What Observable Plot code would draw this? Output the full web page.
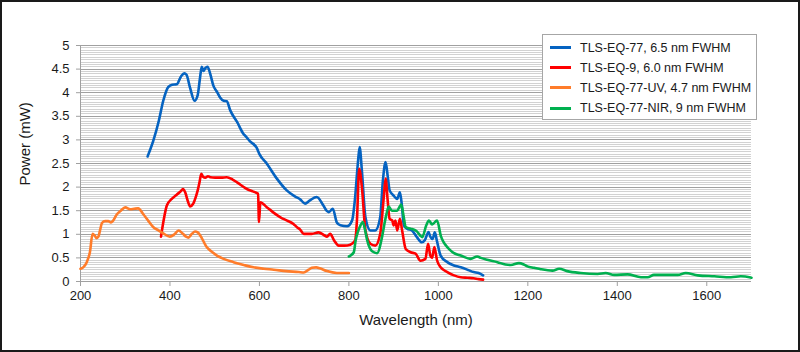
<!DOCTYPE html>
<html><head><meta charset="utf-8">
<script src="https://cdn.jsdelivr.net/npm/d3@7"></script>
<script src="https://cdn.jsdelivr.net/npm/@observablehq/plot@0.6"></script>
<style>
html,body{margin:0;padding:0;background:#fff;}
#wrap{position:relative;width:800px;height:352px;font-family:"Liberation Sans",Arial,sans-serif;}
#frame{position:absolute;left:0;top:0;width:800px;height:352px;box-sizing:border-box;border:2px solid #1a1a1a;pointer-events:none;}
#legend{position:absolute;left:542px;top:34px;width:215px;height:86px;box-sizing:border-box;border:1px solid #a6a6a6;background:#fff;}
.row{position:absolute;left:0;height:20px;display:flex;align-items:center;font-size:12.5px;color:#1a1a1a;white-space:nowrap;}
.sw{width:21px;height:3px;margin-left:7px;margin-right:9px;}
</style></head><body>
<div id="wrap"><div id="chart"></div><div id="legend"></div><div id="frame"></div></div>
<script>
// Series names and colours
const seriesNames = ["TLS-EQ-77, 6.5 nm FWHM", "TLS-EQ-9, 6.0 nm FWHM", "TLS-EQ-77-UV, 4.7 nm FWHM", "TLS-EQ-77-NIR, 9 nm FWHM"];
const seriesColors = ["#0563c1", "#ff0000", "#ff7c2a", "#00b04f"];

// TLS-EQ-77
const eq77_nm = [350,363,375,385,396,405,415,425,432,437,445,455,462,467,471,475,479,484,490,497,505,512,520,527,535,550,564,570,579,594,600,617,639,661,680,691,702,713,728,743,750,755,764,773,781,796,807,814,820,824,829,837,848,859,870,876,882,887,891,900,908,914,918,923,930,941,952,963,970,978,982,987,992,997,1005,1020,1035,1050,1065,1079,1090,1100];
const eq77_mW = [2.65,2.99,3.4,3.83,4.12,4.17,4.18,4.35,4.41,4.38,4.1,3.83,3.95,4.3,4.55,4.46,4.52,4.55,4.4,4.15,4.02,3.9,3.83,3.82,3.62,3.38,3.13,3.07,2.97,2.83,2.7,2.49,2.18,1.93,1.8,1.74,1.65,1.72,1.79,1.61,1.5,1.47,1.54,1.25,1.19,1.17,1.29,1.79,2.5,2.85,2.35,1.36,1.08,1.08,1.36,2.14,2.53,2.21,1.93,1.82,1.75,1.89,1.65,1.19,1.12,1.08,0.94,0.83,0.88,1.05,0.95,0.9,1.04,0.85,0.55,0.41,0.34,0.3,0.25,0.2,0.18,0.13];

// TLS-EQ-9
const eq9_nm = [380,385,393,404,415,425,429,434,440,445,452,458,462,466,470,474,479,485,490,501,515,527,540,550,572,585,597,599,602,617,630,647,662,676,684,691,699,717,732,745,751,758,767,777,790,803,814,818,823,829,837,848,859,870,878,882,887,891,897,900,904,908,914,919,927,938,949,960,971,977,982,986,991,997,1005,1020,1035,1050,1065,1079,1090,1100];
const eq9_mW = [0.95,1.25,1.61,1.75,1.84,1.92,1.96,1.89,1.7,1.59,1.65,1.8,1.93,2.1,2.28,2.22,2.2,2.23,2.21,2.2,2.2,2.21,2.16,2.1,1.96,1.91,1.86,1.26,1.68,1.57,1.47,1.36,1.29,1.22,1.15,1.1,1.01,1.01,1.04,0.98,0.95,1.01,0.87,0.76,0.76,0.78,0.87,1.3,2.39,2.0,1.08,0.8,0.76,1.01,1.79,2.18,1.68,1.33,1.29,1.19,1.29,1.08,1.33,1.08,0.69,0.62,0.59,0.44,0.48,0.8,0.55,0.5,0.73,0.45,0.3,0.2,0.13,0.09,0.08,0.07,0.05,0.04];

// TLS-EQ-77-UV
const uv_nm = [200,206,214,221,227,232,236,240,244,248,255,262,268,273,281,290,300,311,320,329,340,352,363,375,385,400,410,419,429,436,441,449,456,462,468,482,495,505,520,542,565,587,610,632,660,688,699,710,717,727,735,751,773,800];
const uv_mW = [0.27,0.3,0.41,0.62,1.01,0.97,0.92,0.95,1.1,1.24,1.28,1.28,1.25,1.29,1.42,1.5,1.57,1.53,1.54,1.55,1.43,1.28,1.15,1.08,1.02,0.95,1.0,1.08,1.01,0.95,0.93,1.01,1.06,1.04,0.97,0.73,0.62,0.55,0.48,0.41,0.35,0.3,0.27,0.25,0.22,0.2,0.19,0.25,0.29,0.3,0.28,0.22,0.18,0.18];

// TLS-EQ-77-NIR
const nir_nm = [800,811,815,820,826,831,836,841,852,863,874,880,884,889,896,908,913,917,922,927,938,951,964,973,979,986,997,1006,1012,1020,1027,1035,1050,1072,1087,1095,1109,1132,1150,1162,1180,1191,1199,1214,1229,1255,1270,1288,1318,1356,1374,1393,1423,1453,1468,1482,1512,1535,1553,1580,1617,1654,1676,1700];
const nir_mW = [0.53,0.62,0.87,1.05,1.19,1.26,1.1,0.87,0.64,0.6,0.94,1.25,1.43,1.59,1.5,1.5,1.58,1.63,1.4,1.15,1.12,1.07,0.94,1.19,1.29,1.21,1.29,0.95,0.83,0.73,0.66,0.6,0.55,0.48,0.53,0.5,0.46,0.41,0.36,0.35,0.39,0.36,0.32,0.29,0.26,0.23,0.27,0.22,0.18,0.16,0.18,0.14,0.15,0.09,0.09,0.14,0.14,0.14,0.18,0.13,0.11,0.09,0.11,0.08];

// Axis ticks and titles
const xTicks = [200,400,600,800,1000,1200,1400,1600];
const yMajor = [0,0.5,1,1.5,2,2.5,3,3.5,4,4.5,5];
const xTitle = "Wavelength (nm)";
const yTitle = "Power (mW)";

const yMinor = d3.range(1,100).filter(i => i % 10 !== 0).map(i => i / 20);
const allX = [eq77_nm, eq9_nm, uv_nm, nir_nm];
const allY = [eq77_mW, eq9_mW, uv_mW, nir_mW];
const rows = allX.map((xs, s) => xs.map((x, i) => ({nm: x, mW: allY[s][i], series: seriesNames[s]})));

const chart = Plot.plot({
  width: 800, height: 352,
  marginLeft: 80, marginRight: 49, marginTop: 45, marginBottom: 71,
  x: {domain: [200, 1700]},
  y: {domain: [0, 5]},
  style: {fontFamily: "'Liberation Sans', Arial, sans-serif", fontSize: "13px", color: "#1a1a1a", background: "white"},
  marks: [
    Plot.ruleY(yMinor, {stroke: "#d2d2d2", strokeWidth: 1, shapeRendering: "crispEdges"}),
    Plot.ruleY(yMajor, {stroke: "#a0a0a0", strokeWidth: 1, shapeRendering: "crispEdges"}),
    Plot.ruleX([200], {stroke: "#a0a0a0", shapeRendering: "crispEdges"}),
    Plot.axisY({ticks: yMajor, tickSize: 4, tickPadding: 7, tickFormat: d => String(d), label: null, stroke: "#a0a0a0"}),
    Plot.axisX({ticks: xTicks, tickSize: 5, tickPadding: 4, tickFormat: d => String(d), label: null, stroke: "#a0a0a0"}),
    ...rows.map((r, s) => Plot.line(r, {x: "nm", y: "mW", stroke: seriesColors[s], strokeWidth: 2.6, strokeLinejoin: "round", strokeLinecap: "round", curve: "monotone-x"})),
    Plot.text([xTitle], {frameAnchor: "bottom", lineAnchor: "middle", dy: 39, fontSize: 15, fill: "#1a1a1a"}),
    Plot.text([yTitle], {frameAnchor: "left", lineAnchor: "middle", rotate: -90, dx: -55, dy: 22, fontSize: 15, fill: "#1a1a1a"})
  ]
});
document.getElementById("chart").appendChild(chart);

const legend = document.getElementById("legend");
seriesNames.forEach((name, i) => {
  const row = document.createElement("div");
  row.className = "row";
  row.style.top = (2.5 + i * 20.2) + "px";
  const sw = document.createElement("span");
  sw.className = "sw";
  sw.style.background = seriesColors[i];
  const t = document.createElement("span");
  t.textContent = name;
  row.appendChild(sw); row.appendChild(t);
  legend.appendChild(row);
});
</script>
</body></html>
